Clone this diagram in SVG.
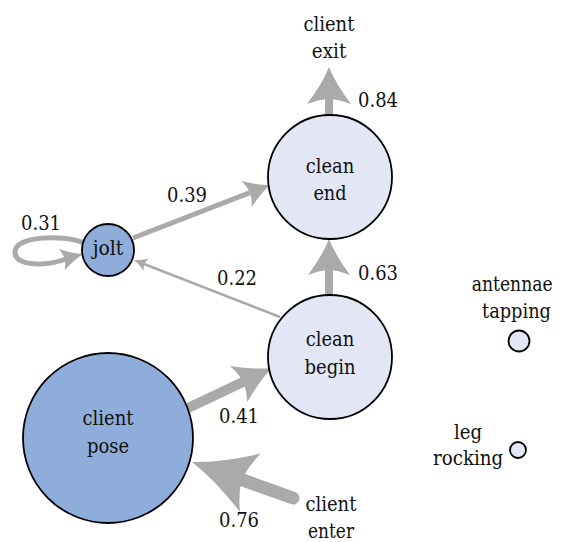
<svg xmlns="http://www.w3.org/2000/svg" width="567" height="542" viewBox="0 0 567 542">
<style>
  text { font-family: "DejaVu Serif", serif; font-size: 21px; fill: #111; }
  .end { text-anchor: end; }
  .dark { fill: #8FADDA; stroke: #000; stroke-width: 1.8; }
  .light { fill: #E3E7F5; stroke: #000; stroke-width: 1.8; }
  .shaft { stroke: #AAAAAA; fill: none; }
  .head { fill: #AAAAAA; }
</style>
<defs>
  <path id="ah" d="M0,0 Q-0.45,0.3 -1,1 Q-0.88,0.5 -0.85,0 Q-0.88,-0.5 -1,-1 Q-0.45,-0.3 0,0 Z"/>
</defs>
<rect width="567" height="542" fill="#fff"/>
<g id="connectors">
  <!-- clean end -> client exit -->
  <line class="shaft" x1="329" y1="115" x2="329" y2="98" stroke-width="8"/>
  <use href="#ah" class="head" transform="translate(329,67) rotate(-90) scale(37,22)"/>
  <!-- clean begin -> clean end -->
  <line class="shaft" x1="329" y1="295" x2="329" y2="268" stroke-width="8"/>
  <use href="#ah" class="head" transform="translate(329,239) rotate(-90) scale(36,21)"/>
  <!-- jolt -> clean end -->
  <line class="shaft" x1="133" y1="238" x2="250" y2="192.6" stroke-width="5"/>
  <use href="#ah" class="head" transform="translate(270,185) rotate(-21.2) scale(25,14)"/>
  <!-- clean begin -> jolt -->
  <line class="shaft" x1="280" y1="317" x2="144" y2="264" stroke-width="2.5"/>
  <use href="#ah" class="head" transform="translate(134,260) rotate(201.4) scale(13,6.5)"/>
  <!-- client pose -> clean begin -->
  <line class="shaft" x1="188" y1="408" x2="244" y2="381.4" stroke-width="10"/>
  <use href="#ah" class="head" transform="translate(272,368) rotate(-25.5) scale(37,20)"/>
  <!-- client enter -> client pose -->
  <line class="shaft" x1="293" y1="498" x2="241" y2="479.4" stroke-width="13" stroke-linecap="round"/>
  <use href="#ah" class="head" transform="translate(192,462) rotate(199.6) scale(62,31)"/>
  <!-- jolt self loop -->
  <path class="shaft" d="M84,243 C62,234 15,236 15,252 C15,267 48,266 66,259" stroke-width="5"/>
  <use href="#ah" class="head" transform="translate(83,254) rotate(-15) scale(22,11)"/>
</g>
<g id="edge-labels">
  <text x="358" y="107" textLength="40" lengthAdjust="spacingAndGlyphs">0.84</text>
  <text x="358" y="280" textLength="40" lengthAdjust="spacingAndGlyphs">0.63</text>
  <text x="167" y="202" textLength="40" lengthAdjust="spacingAndGlyphs">0.39</text>
  <text x="217" y="285" textLength="40" lengthAdjust="spacingAndGlyphs">0.22</text>
  <text x="219" y="423" textLength="40" lengthAdjust="spacingAndGlyphs">0.41</text>
  <text x="219" y="527" textLength="40" lengthAdjust="spacingAndGlyphs">0.76</text>
  <text x="21" y="230" textLength="40" lengthAdjust="spacingAndGlyphs">0.31</text>
</g>
<g id="client-exit">
  <text x="303.4" y="31" textLength="51" lengthAdjust="spacingAndGlyphs">client</text>
  <text x="311.8" y="58" textLength="34.5" lengthAdjust="spacingAndGlyphs">exit</text>
</g>
<g id="client-enter">
  <text x="305.4" y="511" textLength="51" lengthAdjust="spacingAndGlyphs">client</text>
  <text x="308" y="538" textLength="46" lengthAdjust="spacingAndGlyphs">enter</text>
</g>
<g id="clean-end">
  <circle class="light" cx="330" cy="177" r="62"/>
  <text x="305.8" y="173" textLength="48.5" lengthAdjust="spacingAndGlyphs">clean</text>
  <text x="313.4" y="200" textLength="33.2" lengthAdjust="spacingAndGlyphs">end</text>
</g>
<g id="clean-begin">
  <circle class="light" cx="330" cy="357" r="62"/>
  <text x="305.8" y="346" textLength="48.5" lengthAdjust="spacingAndGlyphs">clean</text>
  <text x="304.5" y="374" textLength="51" lengthAdjust="spacingAndGlyphs">begin</text>
</g>
<g id="jolt">
  <circle class="dark" cx="108" cy="250" r="26"/>
  <text x="92.7" y="255" textLength="30.7" lengthAdjust="spacingAndGlyphs">jolt</text>
</g>
<g id="client-pose">
  <circle class="dark" cx="108" cy="438" r="85"/>
  <text x="82.5" y="425" textLength="51" lengthAdjust="spacingAndGlyphs">client</text>
  <text x="86.9" y="453" textLength="42.2" lengthAdjust="spacingAndGlyphs">pose</text>
</g>
<g id="antennae-tapping">
  <circle class="light" cx="519" cy="341" r="10.5"/>
  <text class="end" transform="translate(552.7,291) scale(0.82,1)">antennae</text>
  <text x="482" y="318" textLength="69" lengthAdjust="spacingAndGlyphs">tapping</text>
</g>
<g id="leg-rocking">
  <circle class="light" cx="518" cy="450" r="8"/>
  <text x="454" y="439" textLength="28.1" lengthAdjust="spacingAndGlyphs">leg</text>
  <text x="433" y="465" textLength="70.3" lengthAdjust="spacingAndGlyphs">rocking</text>
</g>
</svg>
